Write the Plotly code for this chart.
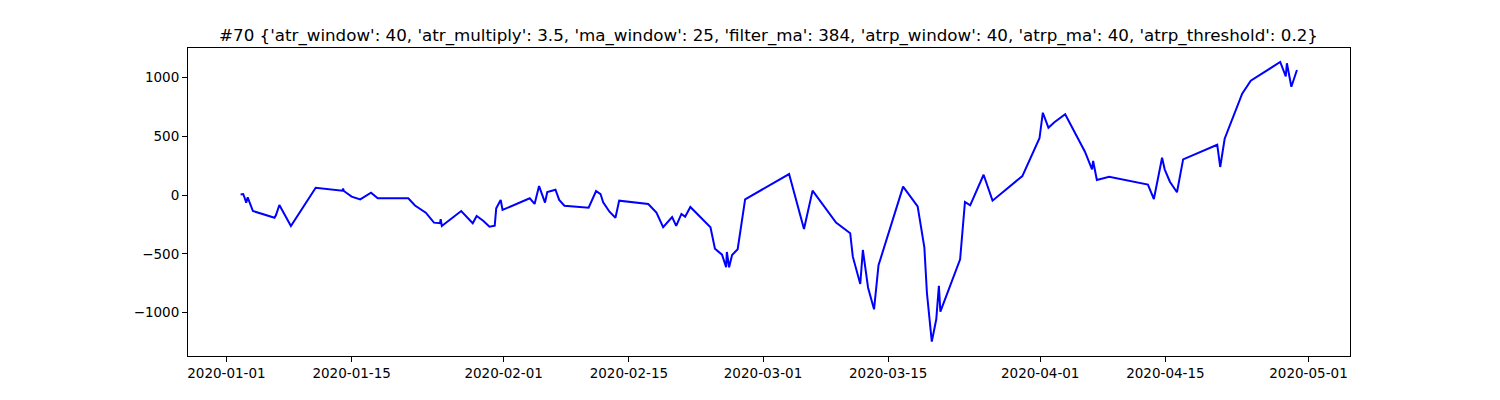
import plotly.graph_objects as go

dates = [
    "2020-01-02 14:00", "2020-01-02 21:00", "2020-01-03 00:00", "2020-01-03 05:00", "2020-01-03 09:00",
    "2020-01-03 23:00", "2020-01-06 09:00", "2020-01-06 13:00", "2020-01-06 22:00", "2020-01-08 05:00",
    "2020-01-10 23:30", "2020-01-13 23:00", "2020-01-14 01:00", "2020-01-14 03:00", "2020-01-15 00:00",
    "2020-01-15 23:00", "2020-01-17 04:00", "2020-01-17 22:00", "2020-01-21 08:00", "2020-01-21 19:00",
    "2020-01-22 02:00", "2020-01-23 07:00", "2020-01-24 05:00", "2020-01-24 21:00", "2020-01-24 23:00",
    "2020-01-25 02:00", "2020-01-27 06:00", "2020-01-28 13:00", "2020-01-28 23:30", "2020-01-29 17:00",
    "2020-01-30 10:00", "2020-01-31 00:00", "2020-01-31 04:00", "2020-01-31 16:00", "2020-01-31 21:00",
    "2020-02-03 22:00", "2020-02-04 11:00", "2020-02-04 23:00", "2020-02-05 15:00", "2020-02-05 21:00",
    "2020-02-06 19:00", "2020-02-07 05:00", "2020-02-07 19:00", "2020-02-10 12:00", "2020-02-11 08:00",
    "2020-02-11 20:00", "2020-02-12 03:00", "2020-02-12 20:00", "2020-02-13 12:00", "2020-02-13 22:00",
    "2020-02-17 04:00", "2020-02-18 02:00", "2020-02-18 10:00", "2020-02-18 20:00", "2020-02-19 20:00",
    "2020-02-20 07:00", "2020-02-20 21:00", "2020-02-21 07:00", "2020-02-21 21:00", "2020-02-24 03:00",
    "2020-02-24 15:00", "2020-02-25 10:00", "2020-02-25 21:00", "2020-02-25 23:00", "2020-02-26 05:00",
    "2020-02-26 13:00", "2020-02-27 04:00", "2020-02-28 00:00", "2020-03-03 22:00", "2020-03-05 14:00",
    "2020-03-06 13:00", "2020-03-09 04:00", "2020-03-10 18:00", "2020-03-11 01:00", "2020-03-11 21:00",
    "2020-03-12 04:00", "2020-03-12 18:00", "2020-03-13 10:00", "2020-03-13 22:00", "2020-03-16 16:00",
    "2020-03-18 07:00", "2020-03-19 01:00", "2020-03-19 08:00", "2020-03-19 21:00", "2020-03-20 09:00",
    "2020-03-20 16:00", "2020-03-20 20:00", "2020-03-23 01:00", "2020-03-23 14:00", "2020-03-24 04:00",
    "2020-03-25 16:00", "2020-03-26 16:00", "2020-03-30 00:00", "2020-03-31 22:00", "2020-04-01 07:00",
    "2020-04-01 22:00", "2020-04-02 14:00", "2020-04-03 19:00", "2020-04-06 00:00", "2020-04-06 07:00",
    "2020-04-06 19:00", "2020-04-06 22:00", "2020-04-07 08:00", "2020-04-08 17:00", "2020-04-13 01:00",
    "2020-04-13 17:00", "2020-04-14 15:00", "2020-04-14 22:00", "2020-04-15 12:00", "2020-04-16 07:00",
    "2020-04-16 23:30", "2020-04-20 19:00", "2020-04-21 03:00", "2020-04-21 15:00", "2020-04-23 14:00",
    "2020-04-24 13:00", "2020-04-27 20:00", "2020-04-28 11:00", "2020-04-28 14:00", "2020-04-29 02:00",
    "2020-04-29 17:00",
]

pnl = [
    5, 8, -17, -65, -20,
    -136, -193, -170, -85, -263,
    62, 37, 54, 34, -14,
    -37, 20, -28, -28, -71,
    -89, -150, -235, -240, -206,
    -263, -136, -240, -178, -218,
    -269, -261, -113, -42, -127,
    -28, -76, 76, -65, 25,
    45, -42, -91, -108, 34,
    8, -62, -142, -193, -48,
    -76, -150, -201, -274, -187,
    -263, -161, -184, -102, -274,
    -456, -507, -614, -484, -614,
    -510, -461, -37, 178, -289,
    37, -235, -325, -524, -756,
    -467, -788, -971, -597, 71,
    -96, -444, -835, -1246, -1056,
    -771, -991, -546, -59, -88,
    172, -48, 161, 482, 699,
    572, 618, 686, 368, 312,
    218, 289, 127, 155, 88,
    -34, 317, 218, 113, 23,
    303, 427, 238, 478, 861,
    971, 1130, 1008, 1119, 920,
    1062,
]

title_text = ("#70 {'atr_window': 40, 'atr_multiply': 3.5, 'ma_window': 25, 'filter_ma': 384, "
              "'atrp_window': 40, 'atrp_ma': 40, 'atrp_threshold': 0.2}")

x_tick_vals = ["2020-01-01", "2020-01-15", "2020-02-01", "2020-02-15", "2020-03-01",
               "2020-03-15", "2020-04-01", "2020-04-15", "2020-05-01"]
y_tick_vals = [-1000, -500, 0, 500, 1000]
y_tick_text = ["\u22121000", "\u2212500", "0", "500", "1000"]

fig = go.Figure()
fig.add_trace(go.Scatter(
    x=dates, y=pnl, mode="lines",
    line=dict(color="#0000ff", width=2),
    showlegend=False, hoverinfo="skip",
))

font = "DejaVu Sans"
axis_common = dict(
    showline=True, linecolor="black", linewidth=1, mirror=True,
    ticks="outside", ticklen=5, tickwidth=1, tickcolor="black",
    showgrid=False, zeroline=False,
    tickfont=dict(family=font, size=13.5, color="black"),
)

fig.update_layout(
    width=1500, height=400,
    margin=dict(l=180, r=157.5, t=40, b=52),
    paper_bgcolor="white", plot_bgcolor="white",
    title=dict(text=title_text, x=0.507, xanchor="center",
               yref="paper", y=1, yanchor="bottom", pad=dict(b=7),
               font=dict(family=font, size=16.7, color="black")),
    xaxis=dict(type="date", range=["2019-12-27 16:48", "2020-05-05 15:22"],
               tickvals=x_tick_vals, ticktext=x_tick_vals, **axis_common),
    yaxis=dict(range=[-1368, 1249], tickvals=y_tick_vals, ticktext=y_tick_text,
               **axis_common),
)

fig.write_html("out.html")
